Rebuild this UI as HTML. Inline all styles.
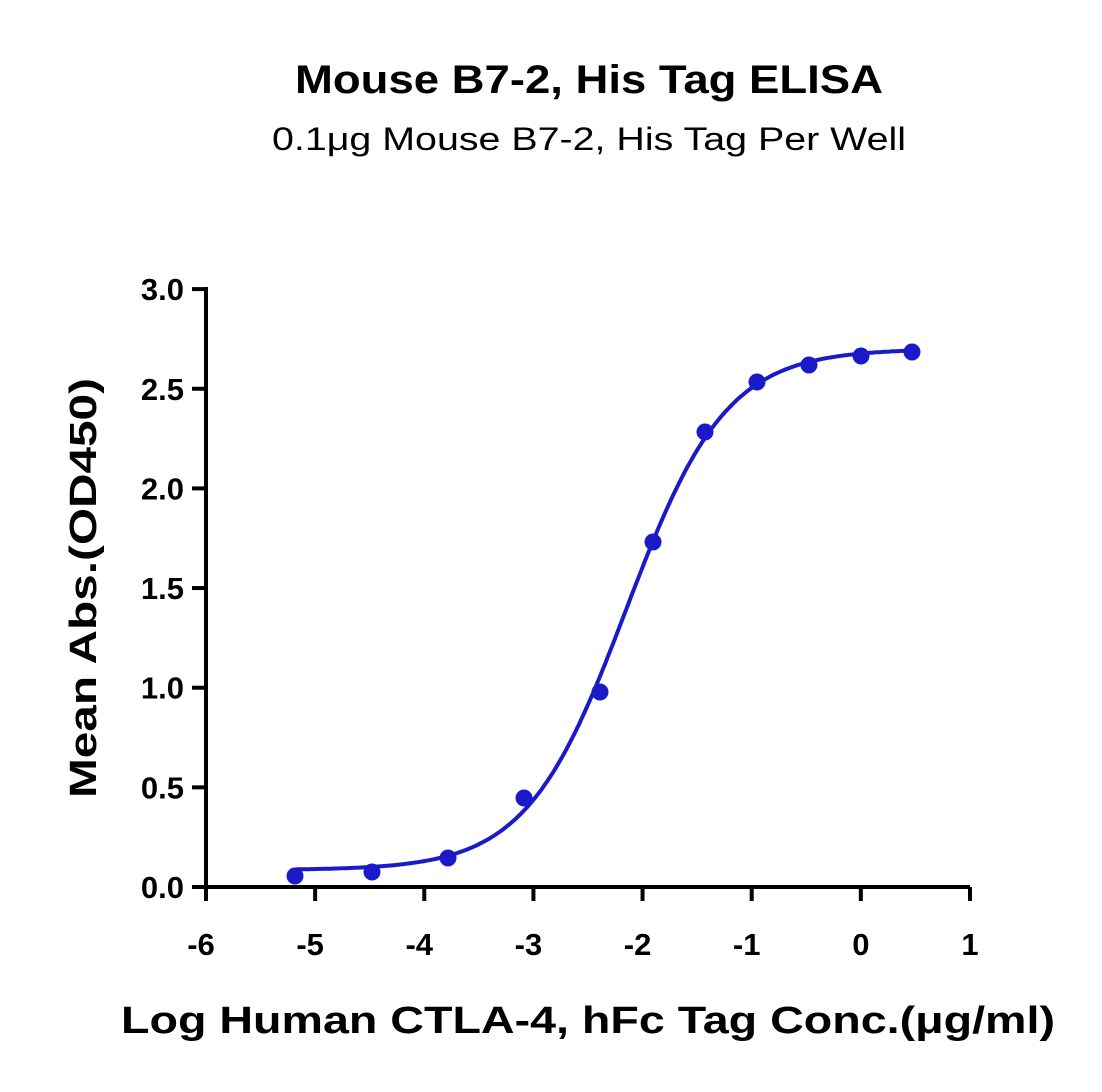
<!DOCTYPE html>
<html><head><meta charset="utf-8"><style>
body{margin:0;background:#fff}
svg text{font-family:"Liberation Sans",sans-serif;fill:#000}
</style></head><body>
<svg id="s" width="1102" height="1087" viewBox="0 0 1102 1087" xmlns="http://www.w3.org/2000/svg">
<text x="589" y="93" font-size="40" font-weight="bold" text-anchor="middle" textLength="588" lengthAdjust="spacingAndGlyphs">Mouse B7-2, His Tag ELISA</text>
<text x="589" y="150" font-size="32" text-anchor="middle" textLength="634" lengthAdjust="spacingAndGlyphs">0.1μg Mouse B7-2, His Tag Per Well</text>
<g stroke="#000" stroke-width="4" fill="none">
<path d="M206,287 V887 H970"/>
<g id="yt"></g><g id="xt"></g>
</g>
<g id="yl" font-size="31" font-weight="bold" text-anchor="end"></g>
<g id="xl" font-size="31" font-weight="bold" text-anchor="middle"></g>
<text transform="translate(96,588) rotate(-90)" font-size="38" font-weight="bold" text-anchor="middle" textLength="420" lengthAdjust="spacingAndGlyphs">Mean Abs.(OD450)</text>
<text x="588" y="1033" font-size="38" font-weight="bold" text-anchor="middle" textLength="934" lengthAdjust="spacingAndGlyphs">Log Human CTLA-4, hFc Tag Conc.(μg/ml)</text>
<path id="curve" fill="none" stroke="#1a1ac8" stroke-width="4"/>
<g id="pts" fill="#1a1ac8"></g>
</svg>
<script>
var ns="http://www.w3.org/2000/svg";
function X(v){return 206+(v+6)*109.14}
function Y(v){return 887-v*199.3}
function el(p,t,a,txt){var e=document.createElementNS(ns,t);for(var k in a)e.setAttribute(k,a[k]);if(txt)e.textContent=txt;document.getElementById(p).appendChild(e)}
for(var i=0;i<=6;i++){var v=i*0.5,y=Y(v);el('yt','line',{x1:192,x2:206,y1:y,y2:y});el('yl','text',{x:184,y:y+11},v.toFixed(1));}
for(var i=-6;i<=1;i++){var x=X(i);el('xt','line',{x1:x,x2:x,y1:887,y2:901});el('xl','text',{x:x-(i<0?5:0),y:955},String(i));}
var d=[[295,876],[372,872],[448,858],[524,798],[600,692],[653,542],[705,432],[757,382],[809,365],[861,356],[912,352]];
d.forEach(function(p){el('pts','circle',{cx:p[0],cy:p[1],r:8.5})});
var s="";for(var lx=-5.18;lx<=0.48;lx+=0.02){var v=0.085+(2.70-0.085)/(1+Math.pow(10,(-2.15-lx)*0.95));s+=(s?"L":"M")+X(lx).toFixed(1)+","+Y(v).toFixed(1);}
document.getElementById('curve').setAttribute('d',s);
</script>
</body></html>
